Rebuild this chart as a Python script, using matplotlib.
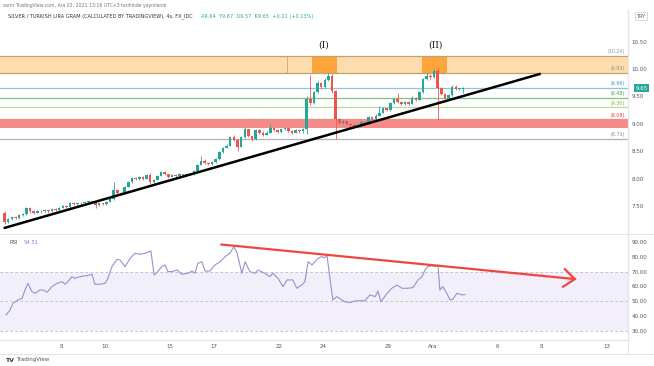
import matplotlib
matplotlib.use("Agg")
import matplotlib.pyplot as plt
from matplotlib.patches import Rectangle

# 4h candles, index 0 ~ Nov 3, weekends skipped (6 candles per day)
first_open = 7.37
closes = [7.20, 7.26, 7.30, 7.28, 7.33, 7.35, 7.47, 7.40, 7.38, 7.41,
          7.40, 7.42, 7.40, 7.45, 7.42, 7.47, 7.50, 7.48, 7.55, 7.53,
          7.55, 7.56, 7.57, 7.58, 7.57, 7.52, 7.55, 7.53, 7.58, 7.62,
          7.79, 7.74, 7.72, 7.85, 7.93, 8.01, 7.99, 8.02, 8.00, 8.06,
          7.93, 7.98, 8.05, 8.12, 8.08, 8.03, 8.07, 8.05, 8.08, 8.07,
          8.09, 8.08, 8.14, 8.25, 8.33, 8.28, 8.26, 8.30, 8.35, 8.48,
          8.56, 8.60, 8.76, 8.70, 8.58, 8.75, 8.90, 8.78, 8.72, 8.88,
          8.84, 8.80, 8.84, 8.93, 8.88, 8.85, 8.90, 8.92, 8.87, 8.84,
          8.88, 8.86, 8.91, 9.45, 9.38, 9.58, 9.74, 9.68, 9.80, 9.88,
          9.60, 9.08, 9.02, 9.05, 9.00, 8.97, 8.94, 8.98, 9.04, 9.00,
          9.12, 9.08, 9.15, 9.20, 9.28, 9.25, 9.38, 9.45, 9.40, 9.36,
          9.40, 9.37, 9.48, 9.44, 9.58, 9.82, 9.88, 9.85, 9.96, 9.65,
          9.55, 9.48, 9.52, 9.68, 9.64, 9.64, 9.65]
highs = [7.40, 7.28, 7.32, 7.32, 7.35, 7.38, 7.49, 7.48, 7.42, 7.43,
         7.43, 7.44, 7.43, 7.47, 7.46, 7.49, 7.52, 7.51, 7.57, 7.57,
         7.56, 7.58, 7.59, 7.60, 7.60, 7.58, 7.56, 7.56, 7.59, 7.64,
         7.94, 7.81, 7.76, 7.87, 7.95, 8.03, 8.03, 8.04, 8.04, 8.08,
         8.10, 8.00, 8.07, 8.14, 8.13, 8.09, 8.09, 8.08, 8.10, 8.09,
         8.11, 8.10, 8.16, 8.27, 8.42, 8.35, 8.30, 8.32, 8.37, 8.50,
         8.58, 8.63, 8.78, 8.80, 8.72, 8.77, 8.95, 8.91, 8.80, 8.90,
         8.90, 8.86, 8.86, 9.00, 8.94, 8.90, 8.92, 8.94, 8.93, 8.88,
         8.90, 8.90, 8.93, 9.50, 9.89, 9.60, 9.78, 9.76, 9.83, 9.93,
         9.90, 9.62, 9.10, 9.07, 9.06, 9.02, 8.99, 9.00, 9.06, 9.05,
         9.14, 9.13, 9.17, 9.32, 9.30, 9.30, 9.40, 9.47, 9.56, 9.42,
         9.42, 9.42, 9.50, 9.49, 9.60, 9.84, 9.92, 9.90, 10.00, 10.02,
         9.68, 9.57, 9.54, 9.70, 9.70, 9.66, 9.67]
lows = [7.17, 7.19, 7.24, 7.26, 7.27, 7.31, 7.34, 7.38, 7.36, 7.37,
        7.38, 7.39, 7.38, 7.39, 7.40, 7.41, 7.46, 7.46, 7.47, 7.51,
        7.52, 7.54, 7.55, 7.56, 7.55, 7.47, 7.50, 7.52, 7.52, 7.57,
        7.61, 7.72, 7.70, 7.71, 7.84, 7.92, 7.97, 7.98, 7.98, 7.99,
        7.91, 7.92, 7.97, 8.04, 8.06, 8.01, 8.02, 8.03, 8.04, 8.05,
        8.06, 8.06, 8.07, 8.13, 8.24, 8.26, 8.24, 8.25, 8.29, 8.34,
        8.47, 8.55, 8.59, 8.68, 8.50, 8.57, 8.74, 8.76, 8.68, 8.71,
        8.82, 8.78, 8.79, 8.83, 8.86, 8.83, 8.84, 8.88, 8.85, 8.82,
        8.83, 8.84, 8.84, 8.82, 9.35, 9.36, 9.56, 9.64, 9.66, 9.78,
        9.56, 8.72, 9.00, 9.00, 8.98, 8.95, 8.92, 8.93, 8.96, 8.98,
        8.99, 9.06, 9.07, 9.14, 9.19, 9.23, 9.24, 9.37, 9.38, 9.34,
        9.35, 9.35, 9.36, 9.42, 9.43, 9.57, 9.80, 9.82, 9.84, 9.07,
        9.52, 9.42, 9.46, 9.50, 9.62, 9.62, 9.57]

rsi_idx = [0.4, 1.5, 2.3, 3.7, 4.8, 5.6, 6.4, 7.5, 8.4, 9.7, 10.6, 11.7, 13, 14.4,
           15.8, 16.6, 17.4, 18.5, 19.3, 20.7, 22.6, 24, 24.8, 26.2, 27.6, 28.4,
           29.5, 30.9, 31.7, 33.1, 34.5, 35.8, 37.2, 38.6, 40.2, 41.1, 41.9, 43.2,
           44.1, 44.9, 46, 47.4, 48.7, 50.4, 51.5, 52.3, 53.1, 54.2, 55.1, 56.4,
           57.8, 59.2, 60.6, 61.9, 63, 63.9, 65.2, 66.1, 67.4, 68.8, 69.6, 71.5,
           72.9, 73.7, 75.1, 76.5, 77.6, 79.2, 80.3, 81.7, 82.5, 83.4, 84.5, 86.1,
           87.2, 88, 88.6, 89.4, 90.2, 91.3, 92.7, 93.5, 94.9, 96.3, 97.6, 99,
           100.4, 101.8, 102.6, 103.4, 105.1, 106.4, 107.8, 109.2, 110.8, 112.2,
           113.6, 114.7, 115.5, 116.3, 117.4, 118.5, 119.1, 119.6, 120.4, 121.5,
           122.4, 123.2, 124.3, 125.7, 126.5]
rsi_val = [40.8, 44.1, 48.7, 50.9, 52, 57.6, 62.1, 56.5, 55.4, 57.6, 57.6, 56.1, 59.9, 62.1,
           63.2, 61.5, 63.2, 66.6, 65.5, 66.6, 67.3, 68.2, 61.5, 61.5, 62.1, 65.5,
           73.4, 78.3, 77.9, 73.4, 79, 82.4, 81.7, 82.4, 83.9, 67.7, 69.5, 73.4,
           74.5, 70, 70, 71.1, 68.2, 68.9, 70.4, 68.9, 75.6, 76.7, 70.4, 70.4,
           74.5, 76.7, 80.1, 82.4, 86.8, 82.4, 68.9, 76.7, 70, 68.9, 71.1, 68.9,
           66.6, 68.9, 65.5, 59.9, 64.4, 64.4, 58.8, 61, 63.2, 76.7, 74.5, 79,
           80.1, 79.4, 80.8, 65.5, 50.9, 53.1, 50.9, 49.7, 49.1, 50.2, 50.4, 50.4,
           54.3, 53.1, 57, 49.7, 55.4, 58.8, 61, 58.8, 58.8, 59.2,
           64.4, 66.6, 71.1, 73.4, 74, 73.4, 74.5, 57.6, 59.9, 55.4,
           50.9, 51.6, 55.4, 54.3, 54.5]

date_ticks = [15.5, 27.5, 45.5, 57.5, 75.5, 87.5, 105.5, 117.5, 135.5, 147.5, 165.5]
date_labels = ["8", "10", "15", "17", "22", "24", "29", "Ara", "6", "8", "13"]
price_ticks = [7.5, 8.0, 8.5, 9.0, 9.5, 10.0, 10.5]
rsi_ticks = [30, 40, 50, 60, 70, 80, 90]

# drawn levels: value, line colour, label colour
levels = [(10.24, "#c4a06e", "#8a8f99"), (9.93, "#c4a06e", "#8a8f99"),
          (9.66, "#8fc6d3", "#4e8fb3"), (9.48, "#7cc47f", "#43a047"),
          (9.30, "#b9dc9e", "#7cb342"), (9.08, "#f28b82", "#e53935"),
          (8.73, "#b7adb9", "#8a8f99")]
trend_x = [0, 147.1]
trend_y = [7.10, 9.91]
rsi_trend_x = [59.5, 156.7]
rsi_trend_y = [88.3, 65.0]

GREEN = "#26a69a"
RED = "#ef5350"
W, H = 654, 366

fig = plt.figure(figsize=(6.54, 3.66), dpi=100)
fig.patch.set_facecolor("white")

ax = fig.add_axes([0, (H - 233) / H, 628 / W, (233 - 10) / H])
ax_r = fig.add_axes([0, (H - 340) / H, 628 / W, (340 - 235) / H], sharex=ax)

xlim = (-1.26, 171.3)
ax.set_xlim(*xlim)
ax.set_ylim(7.007, 11.077)
ax_r.set_ylim(23.9, 94.7)

# zones
ax.add_patch(Rectangle((xlim[0], 9.93), xlim[1] - xlim[0], 0.31, color="#fddcad", lw=0, zorder=1))
ax.add_patch(Rectangle((84.5, 9.93), 6.8, 0.31, color="#fba53c", lw=0, zorder=1.2))
ax.add_patch(Rectangle((114.7, 9.93), 6.8, 0.31, color="#fba53c", lw=0, zorder=1.2))
ax.plot([77.6, 77.6], [9.93, 10.24], color="#c9a87c", lw=0.6, zorder=1.3)
ax.add_patch(Rectangle((xlim[0], 8.92), xlim[1] - xlim[0], 0.16, color="#f48b88", lw=0, zorder=1))

for val, lc, tc in levels:
    ax.axhline(val, color=lc, lw=0.9, zorder=1.5)
    ax.text(170.5, val + 0.03, "(%.2f)" % val, color=tc, fontsize=3.4,
            ha="right", va="bottom", zorder=5)

# candles
opens = [first_open] + closes[:-1]
for i, (o, c, hi, lo) in enumerate(zip(opens, closes, highs, lows)):
    col = GREEN if c >= o else RED
    ax.vlines(i, lo, hi, color=col, lw=0.6, zorder=3)
    ax.bar(i, max(abs(c - o), 0.012), bottom=min(o, c), width=0.7, color=col, lw=0, zorder=3)

ax.plot(trend_x, trend_y, color="black", lw=1.8, zorder=4, solid_capstyle="round")

ax.text(87.8, 10.36, "(I)", family="DejaVu Serif", fontsize=6.5, ha="center", va="bottom", color="#222222")
ax.text(118.3, 10.36, "(II)", family="DejaVu Serif", fontsize=6.5, ha="center", va="bottom", color="#222222")

ax.yaxis.tick_right()
ax.set_yticks(price_ticks)
ax.set_yticklabels(["%.2f" % v for v in price_ticks])
ax.tick_params(axis="y", length=0, pad=2.5, labelsize=4, labelcolor="#555555")
ax.tick_params(axis="x", bottom=False, labelbottom=False)
for s in ["top", "left", "bottom"]:
    ax.spines[s].set_visible(False)
ax.spines["right"].set_color("#e3e5ea")
ax.spines["right"].set_linewidth(0.8)

# last price tag
ax.text(1.012, 9.65, "9.65", transform=ax.get_yaxis_transform(), fontsize=4, color="white",
        ha="left", va="center", zorder=6,
        bbox=dict(boxstyle="square,pad=0.25", fc=GREEN, ec="none"), clip_on=False)

# RSI pane
ax_r.axhspan(30, 70, color="#f2eefa", lw=0, zorder=0)
for lvl in [70, 50, 30]:
    ax_r.axhline(lvl, color="#b8bcc6", lw=0.6, ls=(0, (3, 3)), zorder=1)
ax_r.plot(rsi_idx, rsi_val, color="#9a8fd3", lw=0.8, zorder=3)
ax_r.plot(rsi_trend_x, rsi_trend_y, color="#f0463f", lw=1.6, zorder=4, solid_capstyle="round")
ax_r.plot([153.9, 156.7, 153.4], [71.8, 65.0, 59.7], color="#f0463f", lw=1.6, zorder=4,
          solid_capstyle="round", solid_joinstyle="miter")

ax_r.yaxis.tick_right()
ax_r.set_yticks(rsi_ticks)
ax_r.set_yticklabels(["%.2f" % v for v in rsi_ticks])
ax_r.tick_params(axis="y", length=0, pad=2.5, labelsize=4, labelcolor="#555555")
ax_r.set_xticks(date_ticks)
ax_r.set_xticklabels(date_labels)
ax_r.tick_params(axis="x", length=0, pad=3, labelsize=4, labelcolor="#555555")
for s in ["top", "left"]:
    ax_r.spines[s].set_visible(False)
ax_r.spines["right"].set_color("#e3e5ea")
ax_r.spines["bottom"].set_color("#e3e5ea")
ax_r.spines["right"].set_linewidth(0.8)
ax_r.spines["bottom"].set_linewidth(0.8)
ax_r.text(0.015, 0.93, "RSI", transform=ax_r.transAxes, fontsize=3.8, color="#555555", va="center")
ax_r.text(0.037, 0.93, "54.51", transform=ax_r.transAxes, fontsize=3.8, color="#8a7fd0", va="center")

# separators and header texts
fig.add_artist(plt.Line2D([0, 1], [(H - 234) / H] * 2, color="#e3e5ea", lw=0.8))
fig.add_artist(plt.Line2D([0, 1], [(H - 354) / H] * 2, color="#e3e5ea", lw=0.8))
fig.add_artist(plt.Line2D([628 / W] * 2, [(H - 354) / H, (H - 10) / H], color="#e3e5ea", lw=0.8))
fig.text(3 / W, 1 - 5 / H, "asmr TradingView.com, Ara 02, 2021 13:16 UTC+3 tarihinde yayınlandı",
         fontsize=3.3, color="#777777", va="center")
fig.text(8 / W, 1 - 16.5 / H, "SILVER / TURKISH LIRA GRAM (CALCULATED BY TRADINGVIEW), 4s, FX_IDC",
         fontsize=3.6, color="#333333", va="center")
fig.text(201 / W, 1 - 16.5 / H, "A9.64  Y9.67  D9.57  K9.65  +0.01 (+0.13%)",
         fontsize=3.6, color=GREEN, va="center")
fig.text(641 / W, 1 - 16 / H, "TRY", fontsize=3.6, color="#555555", ha="center", va="center",
         bbox=dict(boxstyle="square,pad=0.3", fc="white", ec="#c8ccd4", lw=0.5))
fig.text(5 / W, 1 - 360 / H, "TV", fontsize=4.5, fontweight="bold", color="#333333", va="center")
fig.text(16 / W, 1 - 360 / H, "TradingView", fontsize=4, color="#555555", va="center")

fig.savefig("out.png", dpi=100)
